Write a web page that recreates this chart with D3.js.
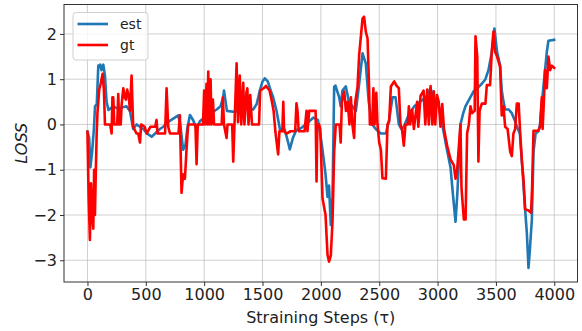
<!DOCTYPE html>
<html>
<head>
<meta charset="utf-8">
<script src="https://cdn.jsdelivr.net/npm/d3@7"></script>
<style>
  body { margin: 0; background: #fff; }
  svg { font-family: "DejaVu Sans", sans-serif; }
</style>
</head>
<body>
<svg id="chart" width="582" height="331"></svg>
<script>
// series (step, value)
const estSteps = [0, 15, 25, 40, 55, 65, 80, 93, 110, 120, 136, 150, 164, 180, 221, 260, 300, 335, 364, 378, 392, 420, 450, 478, 510, 550, 580, 621, 650, 678, 705, 735, 778, 795, 820, 840, 855, 878, 905, 935, 963, 1000, 1021, 1060, 1107, 1140, 1163, 1170, 1195, 1249, 1300, 1340, 1363, 1375, 1420, 1450, 1477, 1500, 1520, 1545, 1570, 1591, 1620, 1649, 1690, 1710, 1734, 1760, 1790, 1820, 1870, 1934, 1975, 2000, 2014, 2040, 2057, 2070, 2085, 2100, 2114, 2125, 2157, 2170, 2185, 2214, 2240, 2270, 2300, 2328, 2357, 2385, 2410, 2440, 2470, 2514, 2557, 2585, 2614, 2640, 2668, 2690, 2711, 2750, 2800, 2850, 2900, 2940, 2970, 3010, 3040, 3076, 3111, 3130, 3154, 3170, 3185, 3196, 3220, 3239, 3270, 3311, 3340, 3379, 3410, 3436, 3465, 3487, 3510, 3536, 3550, 3565, 3579, 3610, 3636, 3660, 3680, 3705, 3722, 3750, 3765, 3779, 3790, 3808, 3822, 3840, 3864, 3878, 3893, 3921, 3936, 3950, 3999];
const estValues = [-0.16, -0.3, -0.95, -0.6, -0.1, 0.4, 0.45, 1.3, 1.32, 1.2, 1.32, 1.07, 0.5, 0.32, 0.4, 0.35, 0.38, 0.4, 0.3, 0.1, -0.1, 0.0, -0.05, -0.1, -0.2, -0.27, -0.2, -0.1, -0.05, 0.02, 0.08, 0.13, 0.2, 0.0, -0.56, -0.45, -0.1, 0.21, 0.1, -0.1, 0.07, 0.15, 0.2, 0.25, 0.33, 0.4, 0.6, 0.75, 0.3, 0.28, 0.3, 0.35, 0.72, 0.35, 0.33, 0.45, 0.75, 0.95, 1.02, 0.95, 0.75, 0.6, 0.3, -0.1, -0.12, -0.3, -0.55, -0.3, -0.12, -0.1, 0.0, 0.15, 0.1, -0.3, -0.56, -1.1, -1.6, -1.35, -2.22, -1.6, 0.83, 0.86, 0.6, 0.4, 0.75, 0.84, 0.5, 0.4, 0.3, 0.9, 1.57, 1.35, 0.5, 0.0, -0.1, -0.2, -0.2, 0.1, 0.6, 0.6, 0.0, -0.1, -0.05, 0.2, 0.4, 0.5, 0.6, 0.8, 0.55, 0.4, 0.0, -0.5, -0.95, -1.5, -2.15, -1.5, -0.7, 0.0, 0.25, 0.4, 0.55, 0.74, 0.8, 0.9, 1.0, 1.2, 1.6, 2.12, 1.6, 1.3, 0.75, 0.5, 0.33, 0.33, 0.25, 0.1, -0.05, -0.2, -0.8, -1.87, -2.4, -3.17, -2.8, -2.1, -0.6, -0.2, -0.15, 0.0, 0.46, 1.2, 1.6, 1.85, 1.87];

const gtSteps = [0, 10, 21, 30, 40, 50, 57, 64, 72, 79, 86, 93, 100, 113, 130, 141, 150, 195, 207, 214, 221, 230, 255, 264, 272, 285, 293, 307, 320, 330, 340, 355, 364, 378, 392, 420, 435, 450, 460, 490, 507, 540, 580, 592, 600, 665, 678, 692, 707, 780, 792, 806, 820, 835, 850, 863, 925, 935, 945, 990, 1000, 1008, 1020, 1028, 1035, 1045, 1055, 1063, 1075, 1085, 1150, 1160, 1170, 1192, 1200, 1240, 1249, 1260, 1278, 1290, 1305, 1318, 1335, 1345, 1360, 1370, 1380, 1395, 1410, 1470, 1480, 1510, 1530, 1560, 1577, 1595, 1610, 1634, 1645, 1670, 1678, 1685, 1706, 1740, 1780, 1791, 1800, 1810, 1860, 1877, 1885, 1900, 1934, 1955, 1963, 1970, 1985, 1995, 2014, 2040, 2057, 2070, 2085, 2100, 2114, 2128, 2160, 2170, 2180, 2200, 2215, 2230, 2245, 2257, 2270, 2285, 2295, 2314, 2328, 2357, 2370, 2385, 2400, 2413, 2420, 2440, 2450, 2460, 2475, 2485, 2500, 2514, 2528, 2557, 2571, 2585, 2600, 2628, 2650, 2668, 2682, 2695, 2711, 2725, 2745, 2754, 2765, 2782, 2797, 2825, 2835, 2854, 2880, 2895, 2911, 2925, 2940, 2955, 2968, 2980, 2995, 3010, 3025, 3040, 3055, 3082, 3111, 3139, 3154, 3168, 3182, 3196, 3205, 3225, 3240, 3253, 3268, 3282, 3296, 3318, 3325, 3340, 3350, 3360, 3379, 3410, 3422, 3450, 3465, 3479, 3493, 3510, 3536, 3550, 3565, 3579, 3600, 3622, 3636, 3650, 3665, 3679, 3695, 3707, 3722, 3736, 3750, 3779, 3801, 3810, 3822, 3864, 3878, 3893, 3900, 3910, 3921, 3936, 3950, 3965, 3979, 3999];
const gtValues = [-0.16, -1.6, -2.55, -1.3, -2.0, -2.3, -1.0, -2.0, -1.0, -0.2, 0.27, 0.5, 0.76, 0.9, 1.12, 0.76, 0.0, 0.0, -0.2, 0.6, 0.6, 0.0, 0.0, 0.67, 0.0, 0.0, 0.44, 0.8, 0.6, 0.55, 0.77, 0.6, 0.3, 1.08, -0.05, -0.2, -0.2, -0.4, 0.0, -0.05, -0.2, -0.05, -0.05, 0.1, -0.2, -0.2, 0.8, -0.05, -0.2, -0.2, 0.2, -1.51, -1.1, -1.2, -0.5, 0.0, 0.0, -0.88, 0.0, 0.0, 0.75, 0.0, 0.9, 0.0, 1.17, 0.0, 1.0, 0.0, 0.55, 0.0, 0.0, 0.6, 0.0, -0.3, 0.0, 0.0, -0.82, 0.0, 1.35, 0.05, 1.08, 0.0, 0.92, 0.0, 0.6, 0.8, 0.0, 0.65, 0.0, 0.0, 0.75, 0.8, 0.85, 0.75, 0.55, 0.3, -0.15, -0.66, -0.15, -0.15, 0.5, -0.15, -0.2, -0.15, -0.15, 0.47, 0.3, -0.15, -0.15, 0.3, -0.15, 0.3, 0.3, 0.3, -1.26, 0.0, 0.0, -0.1, -1.63, -2.0, -2.88, -3.03, -2.9, -2.13, -0.6, 0.0, 0.0, -0.4, 0.5, 0.73, 0.3, 0.5, 0.0, 0.6, 0.0, -0.3, 0.5, 0.83, 1.53, 2.34, 2.38, 2.05, 1.9, 0.83, 0.0, 0.0, 0.8, 0.0, 0.7, 0.0, -0.4, -0.55, -1.19, -1.2, 0.0, 0.07, 0.84, 0.95, 0.85, 0.8, 0.0, -0.1, -0.47, 0.0, 0.0, 0.4, 0.0, 0.33, -0.1, 0.5, -0.05, 0.63, 0.75, 0.0, 0.77, 0.0, 0.85, 0.0, 0.73, 0.0, 0.65, 0.5, -0.05, 0.45, -0.1, -0.47, -0.77, -0.9, -1.2, -1.0, -0.5, 0.0, -1.4, -2.1, -2.1, -0.2, 0.0, 0.4, 0.25, 0.3, 1.95, 1.5, -0.82, 0.3, 0.46, 0.46, 0.87, 0.87, 1.63, 2.05, 1.6, 1.5, 1.27, 0.2, 0.4, -0.05, -0.1, -0.6, -0.7, -0.2, -0.1, 0.46, 0.46, -0.15, -0.8, -1.2, -1.87, -1.9, -1.95, -1.4, -0.14, -0.14, -0.05, 0.6, -0.1, 0.46, 1.2, 0.8, 1.5, 1.2, 1.3, 1.25];

const xTicks = [0, 500, 1000, 1500, 2000, 2500, 3000, 3500, 4000];
const yTicks = [-3, -2, -1, 0, 1, 2];
const seriesNames = ["est", "gt"];
const seriesColors = ["#1f77b4", "#ff0000"];

const margin = { top: 4.5, right: 4.5, bottom: 49, left: 64 },
  width = 582 - margin.left - margin.right,
  height = 331 - margin.top - margin.bottom;

const svg = d3.select("#chart")
  .append("g")
  .attr("transform", "translate(" + margin.left + "," + margin.top + ")");

const xScale = d3.scaleLinear().domain([-201, 4199]).range([0, width]);
const yScale = d3.scaleLinear().domain([-3.48, 2.65]).range([height, 0]);

// grid
svg.selectAll("xGrid")
  .data(xTicks)
  .enter()
  .append("line")
  .attr("x1", d => xScale(d)).attr("x2", d => xScale(d))
  .attr("y1", 0).attr("y2", height)
  .attr("stroke", "#b0b0b0").attr("stroke-opacity", 0.6).attr("stroke-width", 1);
svg.selectAll("yGrid")
  .data(yTicks)
  .enter()
  .append("line")
  .attr("x1", 0).attr("x2", width)
  .attr("y1", d => yScale(d)).attr("y2", d => yScale(d))
  .attr("stroke", "#b0b0b0").attr("stroke-opacity", 0.6).attr("stroke-width", 1);

// lines
const line = d3.line().x(d => xScale(d[0])).y(d => yScale(d[1]));
const est = estSteps.map((s, i) => [s, estValues[i]]);
const gt = gtSteps.map((s, i) => [s, gtValues[i]]);

[est, gt].forEach((data, i) => {
  svg.append("path")
    .datum(data)
    .attr("d", line)
    .attr("fill", "none")
    .attr("stroke", seriesColors[i])
    .attr("stroke-width", 2.6)
    .attr("stroke-linejoin", "round")
    .attr("stroke-linecap", "square");
});

// axes
const fmt = d => String(d).replace("-", "\u2212");
const xAxis = svg.append("g")
  .attr("transform", "translate(0," + height + ")")
  .call(d3.axisBottom(xScale).tickValues(xTicks).tickFormat(d3.format("d")).tickSize(4).tickPadding(3).tickSizeOuter(0));
const yAxis = svg.append("g")
  .call(d3.axisLeft(yScale).tickValues(yTicks).tickFormat(fmt).tickSize(4).tickPadding(3).tickSizeOuter(0));

[xAxis, yAxis].forEach(a => {
  a.select(".domain").remove();
  a.selectAll("line").attr("stroke", "#333");
  a.selectAll("text")
    .style("font-size", "16px")
    .style("font-family", "DejaVu Sans")
    .attr("fill", "#222");
});

// frame
svg.append("rect")
  .attr("x", 0).attr("y", 0)
  .attr("width", width).attr("height", height)
  .attr("fill", "none").attr("stroke", "#333").attr("stroke-width", 1);

// labels
svg.append("text")
  .attr("x", width / 2)
  .attr("y", height + 41)
  .style("text-anchor", "middle")
  .style("font-size", "16px")
  .attr("fill", "#222")
  .text("Straining Steps (\u03c4)");

svg.append("text")
  .attr("transform", "rotate(-90)")
  .attr("x", 0 - height / 2)
  .attr("y", 27 - margin.left)
  .style("text-anchor", "middle")
  .style("font-size", "16px")
  .style("font-style", "italic")
  .attr("fill", "#222")
  .text("LOSS");

// legend
const legend = svg.append("g").attr("transform", "translate(9,8)");
legend.append("rect")
  .attr("width", 75).attr("height", 47.5)
  .attr("rx", 3)
  .attr("fill", "#fff").attr("fill-opacity", 0.8)
  .attr("stroke", "#d0d0d0");
seriesNames.forEach((name, i) => {
  legend.append("line")
    .attr("x1", 4.5).attr("x2", 35)
    .attr("y1", 11.5 + i * 21).attr("y2", 11.5 + i * 21)
    .attr("stroke", seriesColors[i]).attr("stroke-width", 2.6);
  legend.append("text")
    .attr("x", 47).attr("y", 11.5 + i * 21)
    .attr("dy", "0.36em")
    .style("font-size", "14px")
    .attr("fill", "#222")
    .text(name);
});
</script>
</body>
</html>
